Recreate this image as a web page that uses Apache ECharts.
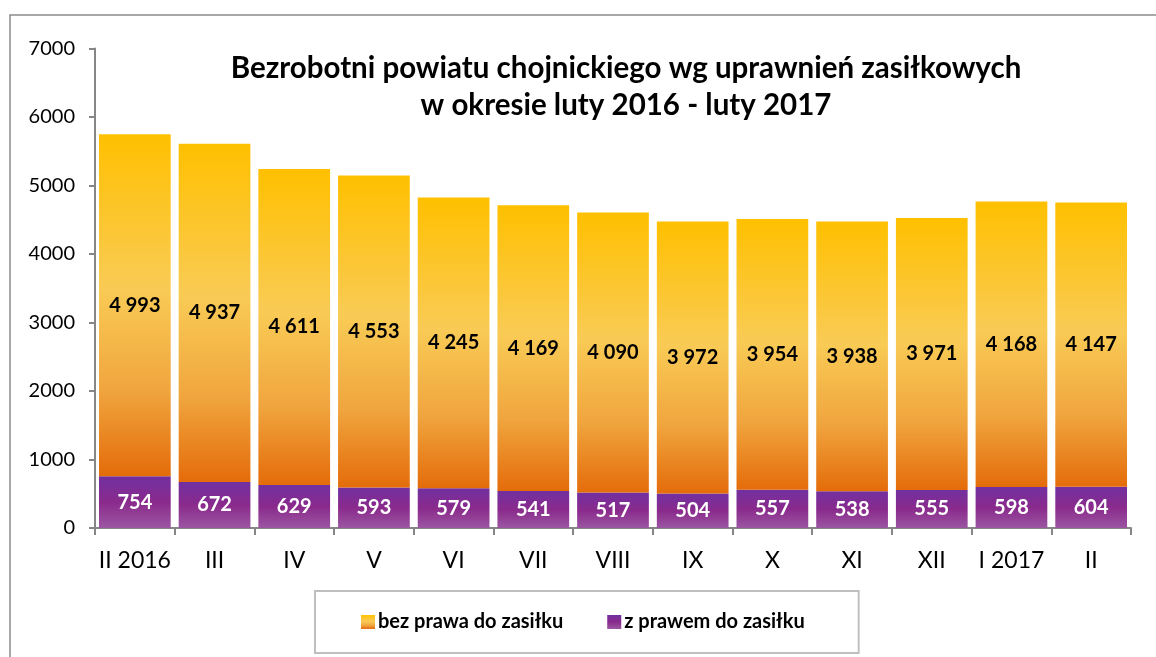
<!DOCTYPE html>
<html>
<head>
<meta charset="utf-8">
<script src="https://cdn.jsdelivr.net/npm/echarts@6/dist/echarts.min.js"></script>
<style>
  html, body { margin: 0; padding: 0; background: #fff; }
  #chart { width: 1156px; height: 657px; }
</style>
</head>
<body>
<div id="chart"></div>
<script>
const months = ['II 2016', 'III', 'IV', 'V', 'VI', 'VII', 'VIII', 'IX', 'X', 'XI', 'XII', 'I 2017', 'II']
const withBenefit = [754, 672, 629, 593, 579, 541, 517, 504, 557, 538, 555, 598, 604]
const withoutBenefit = [4993, 4937, 4611, 4553, 4245, 4169, 4090, 3972, 3954, 3938, 3971, 4168, 4147]

const fontFamily = 'Lato, "Open Sans", sans-serif'

// gradienty jak w Excelu
const orangeFill = new echarts.graphic.LinearGradient(0, 0, 0, 1, [
  { offset: 0, color: '#FFC000' },
  { offset: 0.45, color: '#F9CB55' },
  { offset: 0.75, color: '#F0A53E' },
  { offset: 1, color: '#E46C0A' }
])
const purpleFill = new echarts.graphic.LinearGradient(0, 0, 0, 1, [
  { offset: 0, color: '#7130A0' },
  { offset: 0.5, color: '#8A2A8C' },
  { offset: 1, color: '#9B56A2' }
])

const fmt = (v) => String(v).replace(/\B(?=(\d{3})+(?!\d))/g, ' ')

const chart = echarts.init(document.getElementById('chart'))
chart.setOption({
  animation: false,
  textStyle: { fontFamily },
  title: {
    text: 'Bezrobotni powiatu chojnickiego wg uprawnień zasiłkowych\nw okresie luty 2016 - luty 2017',
    left: 621,
    textAlign: 'center',
    top: 45,
    textStyle: {
      fontFamily,
      fontSize: 29.5,
      fontWeight: 'bold',
      color: '#000',
      lineHeight: 37
    }
  },
  graphic: [
    {
      type: 'rect',
      shape: { x: 10, y: 15, width: 1300, height: 800 },
      style: { fill: 'none', stroke: '#8C8C8C', lineWidth: 1.5 },
      silent: true
    }
  ],
  legend: {
    data: ['bez prawa do zasiłku', 'z prawem do zasiłku'],
    left: 315,
    top: 591,
    padding: [21, 54, 21, 46],
    itemWidth: 14,
    itemHeight: 14,
    itemGap: 44,
    borderColor: '#BFBFBF',
    borderWidth: 2,
    icon: 'rect',
    textStyle: {
      fontFamily,
      fontSize: 20,
      fontWeight: 'bold',
      color: '#000',
      padding: [0, 0, 0, -2]
    }
  },
  grid: {
    left: 95,
    right: 25,
    top: 48.5,
    bottom: 129,
    containLabel: false
  },
  xAxis: {
    type: 'category',
    data: months,
    axisLine: { lineStyle: { color: '#868686', width: 2 } },
    axisTick: { show: true, length: 7, lineStyle: { color: '#868686', width: 2 } },
    axisLabel: { color: '#000', fontSize: 23, margin: 21, interval: 0, fontFamily }
  },
  yAxis: {
    type: 'value',
    min: 0,
    max: 7000,
    interval: 1000,
    splitLine: { show: false },
    axisLine: { show: true, lineStyle: { color: '#868686', width: 2 } },
    axisTick: { show: true, length: 6, lineStyle: { color: '#868686', width: 2 } },
    axisLabel: { color: '#000', fontSize: 20, margin: 20, fontFamily, formatter: (v) => String(v) }
  },
  series: [
    {
      name: 'z prawem do zasiłku',
      type: 'bar',
      stack: 'total',
      data: withBenefit,
      barCategoryGap: '10%',
      itemStyle: { color: purpleFill },
      label: {
        show: true,
        position: 'inside',
        color: '#fff',
        fontSize: 20,
        fontWeight: 'bold',
        fontFamily,
        formatter: (p) => fmt(p.value)
      }
    },
    {
      name: 'bez prawa do zasiłku',
      type: 'bar',
      stack: 'total',
      data: withoutBenefit,
      barCategoryGap: '10%',
      itemStyle: { color: orangeFill },
      label: {
        show: true,
        position: 'inside',
        color: '#000',
        fontSize: 20,
        fontWeight: 'bold',
        fontFamily,
        formatter: (p) => fmt(p.value)
      }
    }
  ]
})
window.addEventListener('resize', () => chart.resize())
</script>
</body>
</html>
